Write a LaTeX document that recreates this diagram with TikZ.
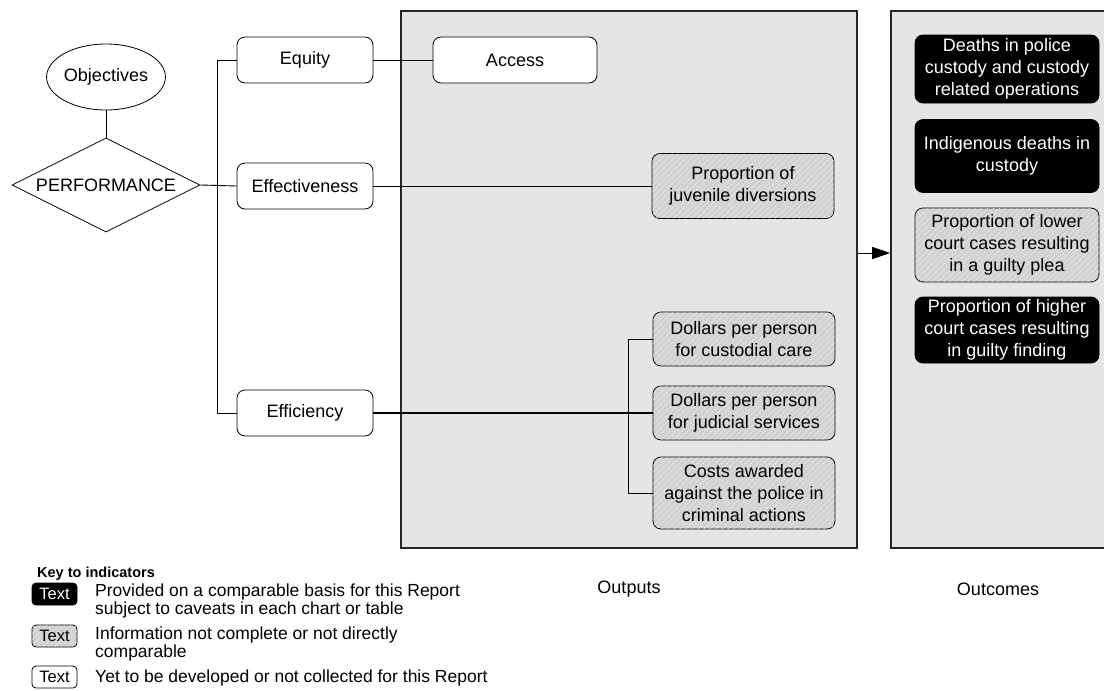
\documentclass[tikz,border=0pt]{standalone}
\usepackage{fontspec}
\setmainfont{Liberation Sans}
\usetikzlibrary{shapes.geometric,patterns.meta,arrows.meta}
\begin{document}
\begin{tikzpicture}[x=1pt,y=-1pt,
  base/.style={font=\fontsize{18}{22}\selectfont, align=center, inner sep=0pt},
  wbox/.style={base, draw=black, line width=0.8pt, rounded corners=8pt, fill=white},
  hbox/.style={base, draw=black, line width=0.8pt, rounded corners=8pt, fill=black!18,
     postaction={pattern={Lines[angle=45,distance=4pt,line width=0.6pt]}, pattern color=black!6}},
  bbox/.style={base, draw=black, line width=0.8pt, rounded corners=8pt, fill=black, text=white},
  panel/.style={draw=black!85, line width=1.6pt, fill=black!10, inner sep=0pt},
  conn/.style={draw=black, line width=0.9pt},
  lgtext/.style={font=\fontsize{17.5}{18}\selectfont, align=left, inner sep=0pt, anchor=west},
  lgbox/.style={font=\fontsize{16.5}{16}\selectfont, inner sep=0pt, minimum width=45pt, minimum height=22pt, rounded corners=4pt, line width=0.8pt}
]
\useasboundingbox (0,0) rectangle (1104,691);
\clip (0,0) rectangle (1104,691);

% panels
\node[panel, minimum width=456pt, minimum height=537pt] (outputs) at (629,279.5) {};
\node[panel, minimum width=219pt, minimum height=537pt] (outcomes) at (1000.5,279.5) {};
\node[base] (outputslbl) at (629,589) {Outputs};
\node[base] (outcomeslbl) at (998,589) {Outcomes};

% left part
\node[base, draw=black, line width=0.8pt, ellipse, minimum width=108pt, minimum height=66pt, fill=white] (obj) at (106,77) {Objectives};
\node[base, draw=black, line width=0.8pt, diamond, shape aspect=2, minimum width=188pt, minimum height=94pt, fill=white] (perf) at (106,185) {PERFORMANCE};

\node[wbox, minimum width=136pt, minimum height=46pt] (equity) at (305,60) {Equity};
\node[wbox, minimum width=136pt, minimum height=46pt] (effect) at (305,186) {Effectiveness};
\node[wbox, minimum width=136pt, minimum height=46pt] (effic) at (305,413) {Efficiency};

% outputs
\node[wbox, minimum width=164pt, minimum height=46pt] (access) at (515,60) {Access};
\node[hbox, minimum width=182pt, minimum height=65pt] (juv) at (743,186) {Proportion of\\juvenile diversions};
\node[hbox, minimum width=182pt, minimum height=54pt] (cust) at (744,339) {Dollars per person\\for custodial care};
\node[hbox, minimum width=182pt, minimum height=54pt] (jud) at (744,413) {Dollars per person\\for judicial services};
\node[hbox, minimum width=182pt, minimum height=72pt] (costs) at (744,493) {Costs awarded\\against the police in\\criminal actions};

% outcomes
\node[bbox, minimum width=184pt, minimum height=68pt] (deaths) at (1007,69) {Deaths in police\\custody and custody\\related operations};
\node[bbox, minimum width=184pt, minimum height=73pt] (indig) at (1007,156) {Indigenous deaths in\\custody};
\node[hbox, minimum width=184pt, minimum height=74pt] (lower) at (1007,245) {Proportion of lower\\court cases resulting\\in a guilty plea};
\node[bbox, minimum width=184pt, minimum height=66pt] (higher) at (1007,330) {Proportion of higher\\court cases resulting\\in guilty finding};

% connectors
\draw[conn] (obj.south) -- (perf.north);
\draw[conn] (perf.east) -- (effect.west);
\draw[conn] (equity.west) -- ++(-19,0) |- (effic.west);
\draw[conn] (equity.east) -- (access.west);
\draw[conn] (effect.east) -- (juv.west);
\draw[conn, line width=1.3pt] (effic.east) -- (jud.west);
\draw[conn] (cust.west) -- ++(-24,0) |- (costs.west);
\coordinate (ay) at (0,253);
\draw[conn, -{Triangle[length=18pt,width=12pt]}] (outputs.east |- ay) -- (outcomes.west |- ay);

% legend
\node[font=\fontsize{14.5}{16}\selectfont\bfseries, inner sep=0pt, anchor=west] (key) at (37,574) {Key to indicators};
\node[lgbox, draw=black, fill=black, text=white] (lg1) at (54.5,594) {Text};
\node[lgbox, draw=black, fill=black!18, postaction={pattern={Lines[angle=45,distance=4pt,line width=0.6pt]}, pattern color=black!6}] (lg2) at (54.5,636) {Text};
\node[lgbox, draw=black, fill=white] (lg3) at (54.5,677) {Text};
\node[lgtext] (lt1) at (95,601) {Provided on a comparable basis for this Report\\subject to caveats in each chart or table};
\node[lgtext] (lt2) at (95,644) {Information not complete or not directly\\comparable};
\node[lgtext] (lt3) at (95,678) {Yet to be developed or not collected for this Report};
\end{tikzpicture}
\end{document}
